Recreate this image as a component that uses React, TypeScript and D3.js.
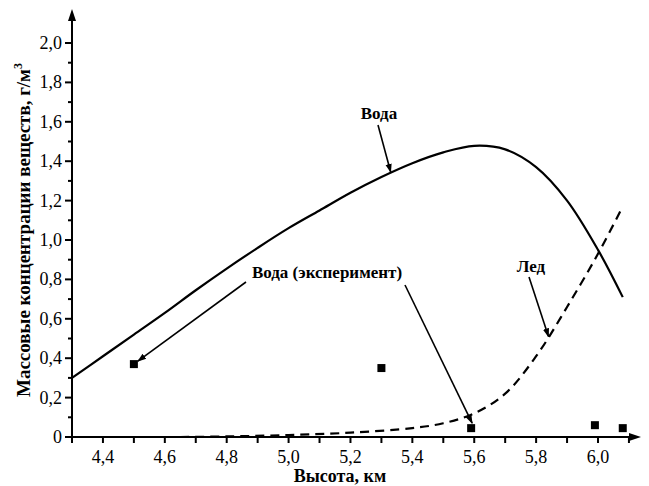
import * as d3 from 'd3';
import React from 'react';

// height, km
const modelHeights = [4.3, 4.4, 4.5, 4.6, 4.7, 4.8, 4.9, 5.0, 5.1, 5.2, 5.3, 5.4, 5.5, 5.6, 5.7, 5.8, 5.9, 6.0, 6.08];
// water, model (solid)
const waterModel = [0.3, 0.41, 0.52, 0.63, 0.745, 0.855, 0.96, 1.06, 1.15, 1.24, 1.32, 1.39, 1.445, 1.478, 1.46, 1.37, 1.2, 0.95, 0.71];

// ice, model (dashed)
const iceHeights = [4.65, 4.8, 5.0, 5.2, 5.4, 5.5, 5.6, 5.7, 5.8, 5.9, 6.0, 6.08];
const iceModel = [0.0, 0.003, 0.01, 0.022, 0.045, 0.07, 0.12, 0.22, 0.41, 0.66, 0.93, 1.17];

// water, experiment
const expHeights = [4.5, 5.3, 5.59, 5.99, 6.08];
const expWater = [0.37, 0.35, 0.045, 0.06, 0.045];

const xTicks = [4.4, 4.6, 4.8, 5.0, 5.2, 5.4, 5.6, 5.8, 6.0];
const xTickLabels = ['4,4', '4,6', '4,8', '5,0', '5,2', '5,4', '5,6', '5,8', '6,0'];
const yTicks = [0, 0.2, 0.4, 0.6, 0.8, 1.0, 1.2, 1.4, 1.6, 1.8, 2.0];
const yTickLabels = ['0', '0,2', '0,4', '0,6', '0,8', '1,0', '1,2', '1,4', '1,6', '1,8', '2,0'];

const W = 649;
const H = 486;
const font = '"Liberation Serif", "Times New Roman", Tinos, "DejaVu Serif", serif';

export default function App() {
  const x = d3.scaleLinear().domain([4.3, 6.0]).range([72, 598]);
  const y = d3.scaleLinear().domain([0, 2.0]).range([437, 43]);

  const line = d3
    .line<[number, number]>()
    .x((d) => x(d[0]))
    .y((d) => y(d[1]))
    .curve(d3.curveCatmullRom.alpha(0.5));

  const waterPts = modelHeights.map((h, i) => [h, waterModel[i]] as [number, number]);
  const icePts = iceHeights.map((h, i) => [h, iceModel[i]] as [number, number]);

  const minorX = d3.range(4.4, 6.15, 0.1);
  const minorY = d3.range(0.1, 2.0, 0.2);

  const x0 = x(4.3);
  const y0 = y(0);

  return (
    <svg width={W} height={H} style={{ position: 'absolute', left: 0, top: 0, background: '#fff', fontFamily: font }}>
      <defs>
        <marker id="ah" viewBox="0 0 10 10" refX="9" refY="5" markerWidth="9" markerHeight="9" orient="auto" markerUnits="userSpaceOnUse">
          <path d="M0,1.5 L10,5 L0,8.5 z" fill="#000" />
        </marker>
      </defs>

      {/* axes */}
      <line x1={x0} x2={632} y1={y0} y2={y0} stroke="#000" strokeWidth={2} />
      <path d={`M${641},${y0} L${629},${y0 - 4} L${629},${y0 + 4} z`} fill="#000" />
      <line x1={x0} x2={x0} y1={y0 + 6} y2={18} stroke="#000" strokeWidth={2} />
      <path d={`M${x0},${9} L${x0 - 4},${21} L${x0 + 4},${21} z`} fill="#000" />

      {minorX.map((v, i) => (
        <line key={'mx' + i} x1={x(v)} x2={x(v)} y1={y0} y2={y0 + 6} stroke="#000" strokeWidth={2} />
      ))}
      {xTicks.map((v, i) => (
        <text key={'xt' + i} x={x(v)} y={y0 + 26} textAnchor="middle" fontSize={18}>
          {xTickLabels[i]}
        </text>
      ))}
      {yTicks.map((v, i) => (
        <g key={'yt' + i}>
          <line x1={x0 - 7} x2={x0} y1={y(v)} y2={y(v)} stroke="#000" strokeWidth={2} />
          <text x={x0 - 10} y={y(v) + 6} textAnchor="end" fontSize={18}>
            {yTickLabels[i]}
          </text>
        </g>
      ))}
      {minorY.map((v, i) => (
        <line key={'my' + i} x1={x0 - 4} x2={x0} y1={y(v)} y2={y(v)} stroke="#000" strokeWidth={2} />
      ))}

      {/* axis titles */}
      <text x={340} y={482} textAnchor="middle" fontSize={18} fontWeight="bold">
        Высота, км
      </text>
      <text transform={`translate(30,230) rotate(-90)`} textAnchor="middle" fontSize={19} fontWeight="bold">
        Массовые концентрации веществ, г/м<tspan dy={-8} fontSize={12}>3</tspan>
      </text>

      {/* curves */}
      <path d={line(waterPts) || ''} fill="none" stroke="#000" strokeWidth={2.2} />
      <path d={line(icePts) || ''} fill="none" stroke="#000" strokeWidth={2.2} strokeDasharray="9,6" />

      {/* experiment squares */}
      {expHeights.map((h, i) => (
        <rect key={'e' + i} x={x(h) - 4} y={y(expWater[i]) - 4} width={8} height={8} fill="#000" />
      ))}

      {/* annotations */}
      <text x={379} y={119} textAnchor="middle" fontSize={17} fontWeight="bold">
        Вода
      </text>
      <line x1={378} y1={125} x2={x(5.33)} y2={y(1.34) - 1} stroke="#000" strokeWidth={1.6} markerEnd="url(#ah)" />

      <text x={327} y={278} textAnchor="middle" fontSize={17} fontWeight="bold">
        Вода (эксперимент)
      </text>
      <line x1={246} y1={282} x2={x(4.5) + 4} y2={y(0.37) - 3} stroke="#000" strokeWidth={1.6} markerEnd="url(#ah)" />
      <line x1={405} y1={285} x2={x(5.59) + 1} y2={y(0.045) - 5} stroke="#000" strokeWidth={1.6} markerEnd="url(#ah)" />

      <text x={531} y={272} textAnchor="middle" fontSize={17} fontWeight="bold">
        Лед
      </text>
      <line x1={529} y1={277} x2={x(5.84)} y2={y(0.51)} stroke="#000" strokeWidth={1.6} markerEnd="url(#ah)" />
    </svg>
  );
}
